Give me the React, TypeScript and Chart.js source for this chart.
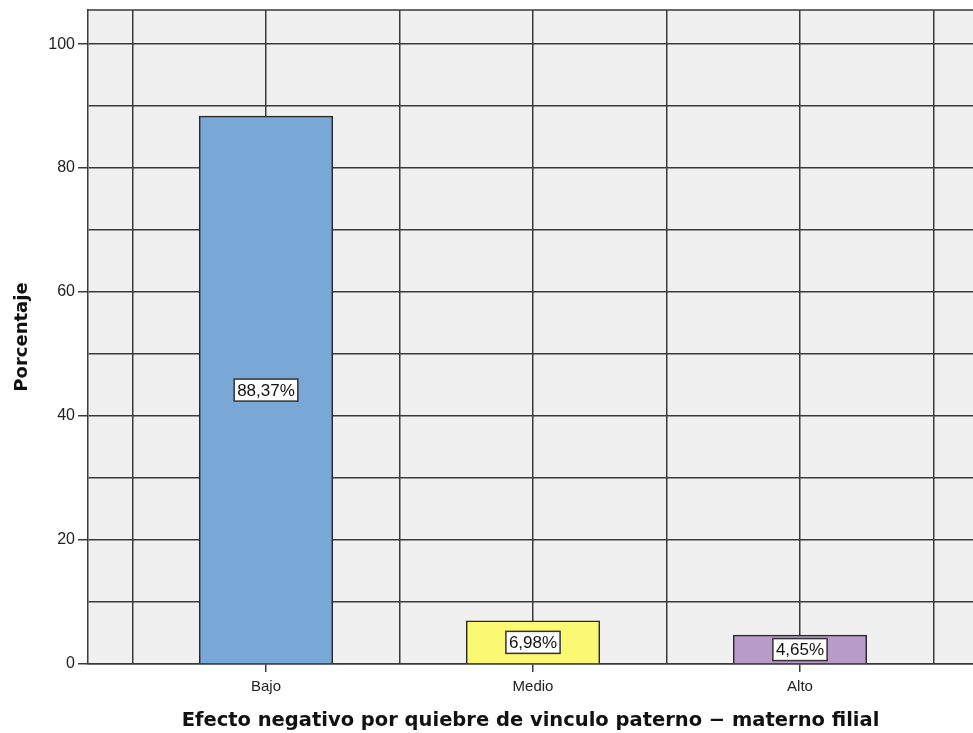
import React, { useEffect, useRef } from "react";
import { Chart, registerables } from "chart.js";

Chart.register(...registerables);

const categories = ["Bajo", "Medio", "Alto"];
const categoryPositions = [1, 2, 3];
const percentages = [88.37, 6.98, 4.65];
const valueLabels = ["88,37%", "6,98%", "4,65%"];
const barColors = ["#79A8D6", "#FBF871", "#B99BCA"];
const yTicks = [0, 10, 20, 30, 40, 50, 60, 70, 80, 90, 100];
const xGridTicks = [0.5, 1, 1.5, 2, 2.5, 3, 3.5];

const GRID = "#3a3a3a";
const FONT = "'Liberation Sans', Arial, sans-serif";
const TITLE_FONT = "'DejaVu Sans', Verdana, sans-serif";

const bgPlugin = {
  id: "bgPlugin",
  beforeDraw(chart: any) {
    const { ctx, chartArea } = chart;
    ctx.save();
    ctx.fillStyle = "#F0F0F0";
    ctx.fillRect(chartArea.left, chartArea.top, chartArea.right - chartArea.left, chartArea.bottom - chartArea.top);
    ctx.restore();
  },
  afterDraw(chart: any) {
    const { ctx, chartArea } = chart;
    ctx.save();
    ctx.strokeStyle = GRID;
    ctx.lineWidth = 1.5;
    ctx.beginPath();
    ctx.moveTo(chartArea.left, chartArea.top);
    ctx.lineTo(chartArea.right, chartArea.top);
    ctx.stroke();
    ctx.restore();
  },
};

const labelPlugin = {
  id: "labelPlugin",
  afterDatasetsDraw(chart: any) {
    const { ctx } = chart;
    const meta = chart.getDatasetMeta(0);
    const yScale = chart.scales.y;
    ctx.save();
    ctx.font = `17px ${FONT}`;
    ctx.textAlign = "center";
    ctx.textBaseline = "middle";
    meta.data.forEach((bar: any, i: number) => {
      const cx = bar.x;
      const cy = yScale.getPixelForValue(percentages[i] / 2);
      const text = valueLabels[i];
      const w = ctx.measureText(text).width + 6;
      const h = 22;
      ctx.fillStyle = "#FFFFFF";
      ctx.fillRect(cx - w / 2, cy - h / 2, w, h);
      ctx.strokeStyle = "#333";
      ctx.lineWidth = 1.5;
      ctx.strokeRect(cx - w / 2, cy - h / 2, w, h);
      ctx.fillStyle = "#111";
      ctx.fillText(text, cx, cy + 1);
    });
    ctx.restore();
  },
};

export default function App() {
  const ref = useRef<HTMLCanvasElement>(null);

  useEffect(() => {
    if (!ref.current) return;
    const chart = new Chart(ref.current, {
      type: "bar",
      data: {
        datasets: [
          {
            data: categoryPositions.map((x, i) => ({ x, y: percentages[i] })),
            backgroundColor: barColors,
            borderColor: "#2a2a2a",
            borderWidth: 1.5,
            barPercentage: 1,
            categoryPercentage: 1,
          },
        ],
      },
      plugins: [bgPlugin, labelPlugin],
      options: {
        animation: false,
        responsive: false,
        devicePixelRatio: 1,
        layout: { padding: { top: 10, left: 0, right: 0, bottom: 0 } },
        plugins: { legend: { display: false }, tooltip: { enabled: false } },
        scales: {
          x: {
            type: "linear",
            offset: false,
            min: 1 / 3,
            max: 3.648,
            afterBuildTicks: (scale: any) => {
              scale.ticks = xGridTicks.map((v) => ({ value: v }));
            },
            afterFit: (scale: any) => {
              scale.height = 69;
              scale.paddingLeft = 0;
              scale.paddingRight = 0;
            },
            ticks: {
              autoSkip: false,
              maxRotation: 0,
              padding: 6,
              color: "#222",
              font: { family: FONT, size: 15 },
              callback: (v: any) => {
                const idx = categoryPositions.indexOf(Number(v));
                return idx >= 0 ? categories[idx] : "";
              },
            },
            grid: {
              offset: false,
              color: GRID,
              lineWidth: 1.5,
              tickLength: 8,
              tickColor: (ctx: any) =>
                ctx.tick && categoryPositions.includes(ctx.tick.value) ? GRID : "rgba(0,0,0,0)",
            },
            border: { display: true, color: GRID, width: 1.5 },
            title: {
              display: true,
              text: "Efecto negativo por quiebre de vinculo paterno − materno filial",
              color: "#111",
              font: { family: TITLE_FONT, size: 19.5, weight: "bold" },
              padding: { top: 6, bottom: 0 },
            },
          },
          y: {
            type: "linear",
            min: 0,
            max: 105.5,
            afterBuildTicks: (scale: any) => {
              scale.ticks = yTicks.map((v) => ({ value: v }));
            },
            afterFit: (scale: any) => {
              scale.width = 88;
              scale.paddingTop = 0;
              scale.paddingBottom = 0;
            },
            ticks: {
              autoSkip: false,
              padding: 3,
              color: "#222",
              font: { family: FONT, size: 16 },
              callback: (v: any) => (Number(v) % 20 === 0 ? String(v) : ""),
            },
            grid: {
              color: GRID,
              lineWidth: 1.5,
              tickLength: 10,
              tickColor: (ctx: any) =>
                ctx.tick && ctx.tick.value % 20 === 0 ? GRID : "rgba(0,0,0,0)",
            },
            border: { display: true, color: GRID, width: 1.5 },
            title: {
              display: true,
              text: "Porcentaje",
              color: "#111",
              font: { family: TITLE_FONT, size: 18, weight: "bold" },
              padding: { top: 12, bottom: 0 },
            },
          },
        },
      },
    });
    return () => chart.destroy();
  }, []);

  return (
    <div style={{ position: "fixed", left: 0, top: 0, width: 973, height: 733, overflow: "hidden", background: "#fff" }}>
      <canvas ref={ref} width={973} height={733} style={{ display: "block" }} />
    </div>
  );
}
